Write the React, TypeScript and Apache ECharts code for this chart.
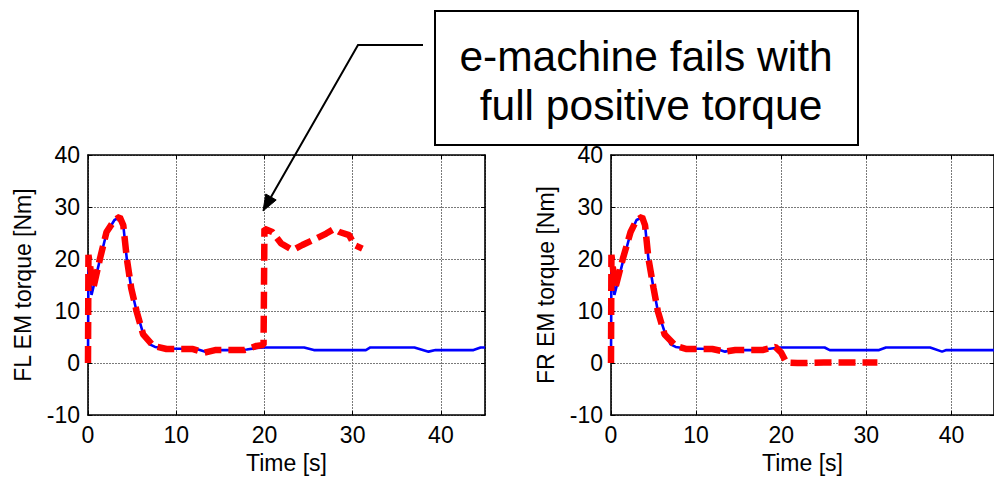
import React, { useEffect, useRef } from "react";
import * as echarts from "echarts";

// ---- Data ----
const xTicks = [0, 10, 20, 30, 40];
const yTicks = [-10, 0, 10, 20, 30, 40];

// FL: reference (blue) torque
const flRefT = [0, 0.05, 0.4, 1.3, 2.1, 3.0, 3.6, 4.0, 4.4, 4.9, 5.5, 6.2, 7.0, 7.6, 8.9, 11.9, 12.5, 13.3, 14.0, 16, 18, 19.1, 20, 24.5, 25.6, 31.5, 32.0, 37.0, 38.6, 39.4, 43.7, 44.5, 45];
const flRefV = [0, 19.5, 13.1, 19.5, 25, 27.5, 28, 26.5, 20, 14.4, 10, 6, 3.6, 3.1, 2.8, 2.7, 2.6, 2.2, 2.5, 2.5, 2.6, 2.9, 3, 3, 2.5, 2.5, 3, 3, 2.2, 2.5, 2.5, 3, 3];

// FL: actual (red dashed) torque, fails at 20 s with full positive torque
const flActT = [0, 0.05, 0.6, 1.36, 2.1, 3.0, 3.6, 4.0, 4.4, 4.9, 5.5, 6.25, 7.4, 8.9, 11.9, 13.2, 14.4, 17.7, 19.1, 19.9, 20.0, 20.9, 21.9, 23.2, 24.3, 25.8, 27.0, 27.9, 28.5, 29.6, 30.2, 31.1];
const flActV = [0, 20.8, 14.4, 20.1, 25.2, 27.5, 28.1, 26.5, 20.1, 14.4, 10, 5.5, 3.3, 2.7, 2.7, 2.0, 2.5, 2.5, 3.3, 3.5, 25.8, 25.2, 23, 21.7, 22.7, 23.9, 24.9, 25.8, 25.2, 24.6, 22.7, 22];

// FR: reference (blue) torque
const frRefT = [0, 0.05, 0.4, 1.4, 2.3, 3.0, 3.65, 4.0, 4.4, 5.0, 5.5, 6.3, 7.0, 7.6, 8.9, 11.9, 12.6, 13.4, 14.2, 16.5, 18, 19.3, 20, 25.1, 25.7, 31.5, 32.3, 37.5, 38.9, 39.4, 45];
const frRefV = [0, 19.5, 13.1, 19.5, 25, 27.5, 28, 26.5, 20, 14.4, 10, 6, 3.6, 3.1, 2.8, 2.7, 2.6, 2.2, 2.5, 2.5, 2.6, 2.9, 3, 3, 2.5, 2.5, 3, 3, 2.2, 2.5, 2.5];

// FR: actual (red dashed) torque
const frActT = [0, 0.05, 0.5, 1.4, 2.3, 3.0, 3.65, 4.0, 4.4, 5.0, 5.5, 6.3, 7.6, 8.9, 11.9, 13.4, 14.6, 17.8, 19.3, 20.0, 20.6, 21.9, 25.0, 28.0, 31.3];
const frActV = [0, 20.8, 14.4, 20.1, 25.2, 27.5, 28.1, 26.5, 20.1, 14.4, 10, 5.5, 3.3, 2.7, 2.7, 2.2, 2.5, 2.5, 3.1, 2.0, 0.1, 0, 0.1, 0.1, 0.1];

const pairs = (t: number[], v: number[]) => t.map((x, i) => [x, v[i]]);

const FONT = "Liberation Sans, Arial, sans-serif";

export default function App() {
  const ref = useRef<HTMLDivElement>(null);

  useEffect(() => {
    document.body.style.margin = "0";
    if (!ref.current) return;
    const chart = echarts.init(ref.current, null, { renderer: "svg", width: 994, height: 479 });

    const grids = [
      { left: 88, top: 155, width: 397, height: 263 },
      { left: 611, top: 155, width: 398, height: 263 },
    ];

    const frameLine = { show: true, onZero: false, lineStyle: { color: "#000", width: 1.6 } };
    const tickIn = { show: true, inside: true, length: 4, lineStyle: { color: "#000", width: 1 } };
    const split = { show: true, lineStyle: { color: "#7a7a7a", width: 1, type: [2, 1] } };
    const label = { color: "#000", fontSize: 23, fontFamily: FONT, margin: 8 };

    const xAxis: any[] = [];
    const yAxis: any[] = [];
    const yNames = ["FL EM torque [Nm]", "FR EM torque [Nm]"];
    grids.forEach((_, g) => {
      xAxis.push({
        type: "value", gridIndex: g, min: 0, max: 45, interval: 10, position: "bottom",
        axisLine: frameLine, axisTick: tickIn, splitLine: split,
        axisLabel: { ...label, showMaxLabel: false, formatter: (v: number) => (xTicks.includes(v) ? String(v) : "") },
        name: "Time [s]", nameLocation: "middle", nameGap: 32,
        nameTextStyle: { color: "#000", fontSize: 23, fontFamily: FONT },
      });
      xAxis.push({
        type: "value", gridIndex: g, min: 0, max: 45, interval: 10, position: "top",
        axisLine: frameLine, axisTick: tickIn, splitLine: { show: false }, axisLabel: { show: false },
      });
      yAxis.push({
        type: "value", gridIndex: g, min: -10, max: 40, interval: 10, position: "left",
        axisLine: frameLine, axisTick: tickIn, splitLine: split,
        axisLabel: { ...label, formatter: (v: number) => (yTicks.includes(v) ? String(v) : "") },
        name: yNames[g], nameLocation: "middle", nameGap: 54,
        nameTextStyle: { color: "#000", fontSize: 23, fontFamily: FONT },
      });
      yAxis.push({
        type: "value", gridIndex: g, min: -10, max: 40, interval: 10, position: "right",
        axisLine: frameLine, axisTick: tickIn, splitLine: { show: false }, axisLabel: { show: false },
      });
    });

    const blue = (data: number[][], g: number) => ({
      type: "line", xAxisIndex: g * 2, yAxisIndex: g * 2, data, showSymbol: false, symbol: "none",
      lineStyle: { color: "#0000ff", width: 2.6 }, z: 2,
    });
    const red = (data: number[][], g: number) => ({
      type: "line", xAxisIndex: g * 2, yAxisIndex: g * 2, data, showSymbol: false, symbol: "none",
      lineStyle: { color: "#ff0000", width: 6.5, type: [17, 7] }, z: 3,
    });

    chart.setOption({
      animation: false,
      backgroundColor: "#fff",
      grid: grids,
      xAxis,
      yAxis,
      series: [
        blue(pairs(flRefT, flRefV), 0),
        red(pairs(flActT, flActV), 0),
        blue(pairs(frRefT, frRefV), 1),
        red(pairs(frActT, frActV), 1),
      ],
      graphic: [
        {
          type: "rect", shape: { x: 435, y: 11, width: 423, height: 134 },
          style: { fill: "#fff", stroke: "#000", lineWidth: 2 }, z: 10,
        },
        {
          type: "text", x: 646, y: 56, z: 11,
          style: { text: "e-machine fails with", fontSize: 42.5, fontFamily: FONT, fill: "#000", align: "center", verticalAlign: "middle" },
        },
        {
          type: "text", x: 651, y: 105, z: 11,
          style: { text: "full positive torque", fontSize: 42.5, fontFamily: FONT, fill: "#000", align: "center", verticalAlign: "middle" },
        },
        {
          type: "polyline", z: 10,
          shape: { points: [[423, 45], [358, 45], [271, 197]] },
          style: { stroke: "#000", lineWidth: 2, fill: null },
        },
        {
          type: "polygon", z: 10,
          shape: { points: [[263, 211], [265.8, 194], [276.2, 200]] },
          style: { fill: "#000", stroke: "#000", lineWidth: 1 },
        },
      ],
    });

    return () => chart.dispose();
  }, []);

  return <div ref={ref} style={{ width: 994, height: 479 }} />;
}
